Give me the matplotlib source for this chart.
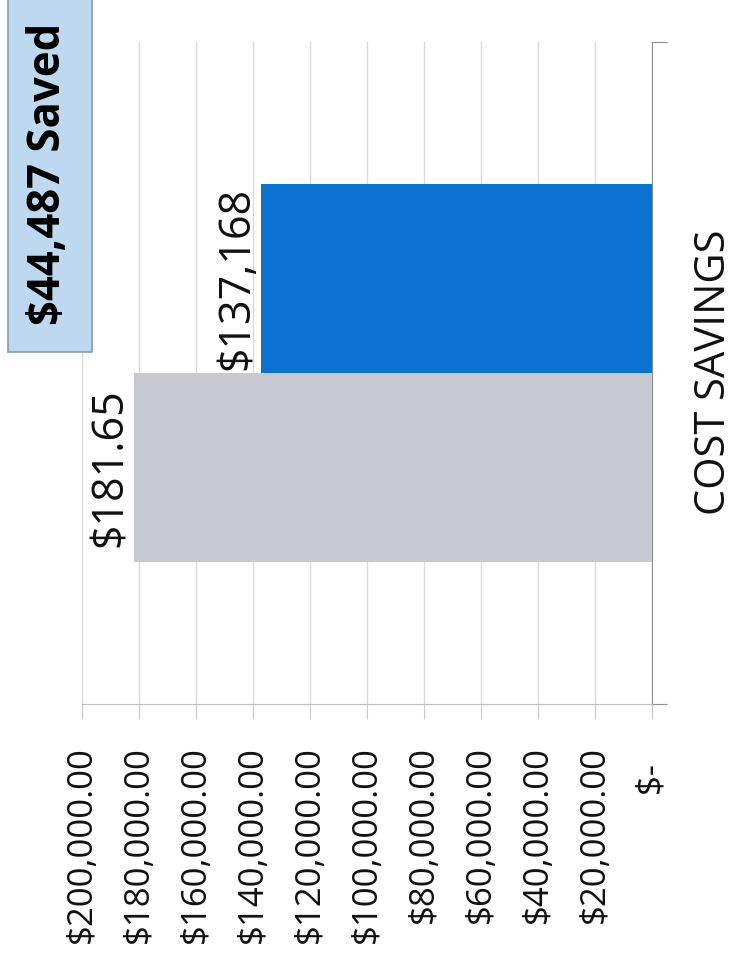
"""Cost savings column chart, drawn rotated like the scanned page."""

import numpy as np
import matplotlib
matplotlib.use("Agg")
import matplotlib.pyplot as plt
from matplotlib.patches import Rectangle
from matplotlib.ticker import FuncFormatter, MultipleLocator

plt.rcParams["font.family"] = ["Open Sans", "DejaVu Sans"]

# data
series_values = [181650, 137168]
series_labels = ["$181.65", "$137,168"]
series_colors = ["#c7c9d0", "#0a71cf"]
value_max = 200000
value_step = 20000
chart_title = "COST SAVINGS"
callout_text = "$44,487 Saved"

GAP_WIDTH = 1.5  # excel-style gap between clusters


def money_label(value, _pos=None):
    if abs(value) < 1e-6:
        return "$-  "
    return f"${value:,.2f}"


fig = plt.figure(figsize=(7.34, 9.56), dpi=100)
ax = fig.add_axes([82 / 734, 1 - 704 / 956, 570 / 734, 662 / 956])

n = len(series_values)
bar_h = 1.0 / (n + GAP_WIDTH)
positions = 0.5 + (np.arange(n) - (n - 1) / 2) * bar_h

ax.barh(positions, series_values, height=bar_h, color=series_colors, zorder=2)

for pos, val, lab in zip(positions, series_values, series_labels):
    ax.annotate(lab, xy=(val, pos), xytext=(-1, 0), textcoords="offset points",
                rotation=90, ha="right", va="center", fontsize=31, color="#111111")

ax.set_xlim(value_max, 0)
ax.set_ylim(0, 1)
ax.xaxis.set_major_locator(MultipleLocator(value_step))
ax.xaxis.set_major_formatter(FuncFormatter(money_label))
ax.grid(axis="x", color="#d9d9d9", linewidth=1.0, zorder=0)
ax.set_axisbelow(True)

for side in ("top", "left"):
    ax.spines[side].set_visible(False)
ax.spines["bottom"].set_color("#bfbfbf")
ax.spines["right"].set_color("#8f8f8f")

ax.tick_params(axis="x", direction="out", length=11, color="#c8c8c8",
               pad=19.5, labelsize=25, labelrotation=90, labelcolor="#111111")
for lbl in ax.get_xticklabels():
    lbl.set_va("top")
ax.yaxis.tick_right()
ax.set_yticks([0, 1])
ax.tick_params(axis="y", direction="out", length=11, color="#8f8f8f", labelright=False)

fig.text(714 / 734, 1 - 372 / 956, chart_title, rotation=90, ha="center", va="center",
         fontsize=30, color="#111111")

fig.patches.append(Rectangle((8 / 734, 1 - 352 / 956), 84 / 734, 360 / 956,
                             transform=fig.transFigure, facecolor="#bdd8ef",
                             edgecolor="#8898ad", linewidth=1.2))
fig.text(49 / 734, 1 - 174 / 956, callout_text, rotation=90, ha="center", va="center",
         fontsize=31.5, fontweight="bold", color="#000000")

fig.savefig("out.png", dpi=100)
